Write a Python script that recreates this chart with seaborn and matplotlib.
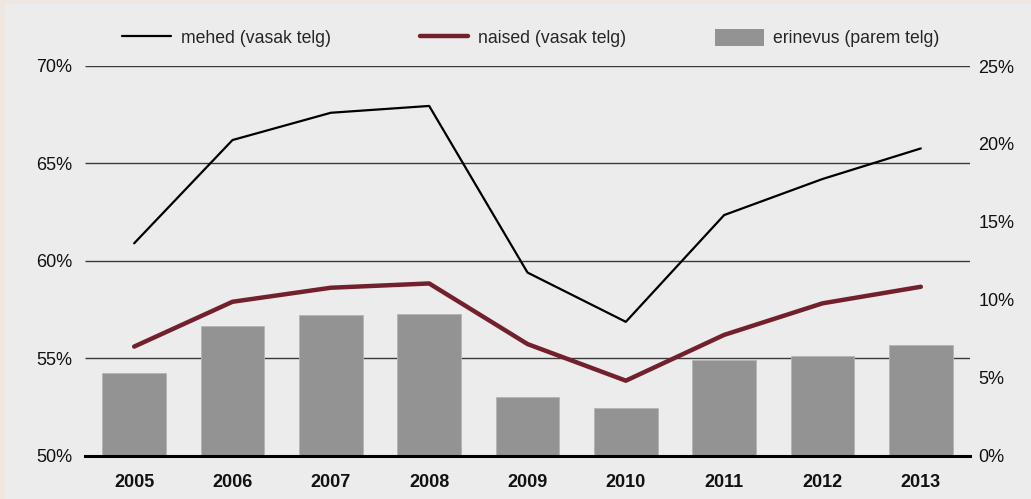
import numpy as np
import pandas as pd
import matplotlib
matplotlib.use('Agg')
import matplotlib.pyplot as plt
import matplotlib.transforms as mtransforms
import seaborn as sns
from matplotlib.patches import Rectangle
from matplotlib.lines import Line2D
from matplotlib.ticker import FuncFormatter

# Data
years = ['2005', '2006', '2007', '2008', '2009', '2010', '2011', '2012', '2013']
mehed = [60.9, 66.2, 67.6, 67.95, 59.4, 56.87, 62.35, 64.2, 65.77]
naised = [55.6, 57.9, 58.62, 58.84, 55.73, 53.85, 56.2, 57.82, 58.67]
erinevus = [5.32, 8.31, 9.0, 9.1, 3.74, 3.04, 6.13, 6.41, 7.1]

left_ticks = [50, 55, 60, 65, 70]
right_ticks = [0, 5, 10, 15, 20, 25]

df = pd.DataFrame({'aasta': years, 'pos': np.arange(len(years)),
                   'mehed': mehed, 'naised': naised, 'erinevus': erinevus})

sns.set_theme(style='white')
plt.rcParams['font.family'] = ['Liberation Sans', 'DejaVu Sans']

BG_OUT = '#efe6df'
BG_IN = '#ececec'
BAR = '#939393'
MAROON = '#72202b'

W, H = 1031, 499
fig = plt.figure(figsize=(W / 100, H / 100), dpi=100, facecolor=BG_OUT)
fig.patches.append(Rectangle((5 / W, 0), 1, 1 - 4 / H, transform=fig.transFigure,
                             facecolor=BG_IN, edgecolor='none', zorder=-5))

ax1 = fig.add_axes([85 / W, (H - 455.7) / H, (970 - 85) / W, (455.7 - 66) / H])
ax2 = ax1.twinx()

# bars on the right axis
sns.barplot(data=df, x='aasta', y='erinevus', color=BAR, saturation=1,
            width=0.65, edgecolor='#b4b4b4', linewidth=0.6, ax=ax2, zorder=2)

# gridlines follow the left axis ticks but sit behind the bars
grid_tr = mtransforms.blended_transform_factory(ax2.transAxes, ax1.transData)
ax2.hlines(left_ticks[1:], 0, 1, transform=grid_tr, color='#3a3a3a',
           linewidth=1.0, zorder=1)

ax2.set_ylim(0, 25)
ax2.set_yticks(right_ticks)
ax2.yaxis.set_major_formatter(FuncFormatter(lambda v, p: f'{v:.0f}%'))
ax2.set_ylabel('')
ax2.set_xlabel('')

# lines on the left axis, drawn above the bars
ax1.set_zorder(ax2.get_zorder() + 1)
ax1.patch.set_visible(False)
sns.lineplot(data=df, x='pos', y='mehed', color='black', linewidth=1.6, ax=ax1)
sns.lineplot(data=df, x='pos', y='naised', color=MAROON, linewidth=3.2, ax=ax1)
ax1.set_ylim(50, 70)
ax1.set_yticks(left_ticks)
ax1.yaxis.set_major_formatter(FuncFormatter(lambda v, p: f'{v:.0f}%'))
ax1.set_xlim(-0.5, len(years) - 0.5)
ax2.set_xlim(-0.5, len(years) - 0.5)
ax1.set_xticks(df['pos'])
ax1.set_xticklabels(years, fontweight='bold')
ax1.set_ylabel('')
ax1.set_xlabel('')

for ax in (ax1, ax2):
    for side in ('top', 'left', 'right', 'bottom'):
        ax.spines[side].set_visible(False)
    ax.tick_params(length=0, labelsize=13, colors='#111111')
ax2.spines['bottom'].set_visible(True)
ax2.spines['bottom'].set_color('black')
ax2.spines['bottom'].set_linewidth(2.2)
ax1.tick_params(axis='y', pad=9)
ax2.tick_params(axis='y', pad=6)
ax1.tick_params(axis='x', pad=13.5)
ax2.tick_params(axis='x', labelbottom=False)

handles = [Line2D([], [], color='black', linewidth=1.6),
           Line2D([], [], color=MAROON, linewidth=3.2),
           Rectangle((0, 0), 1, 1, facecolor=BAR, edgecolor='none')]
labels = ['mehed (vasak telg)', 'naised (vasak telg)', 'erinevus (parem telg)']
fig.legend(handles, labels, loc='center', bbox_to_anchor=(531 / W, 1 - 38 / H),
           ncol=3, frameon=False, fontsize=12.7, handlelength=2.75,
           handleheight=1.15, handletextpad=0.55, columnspacing=5.05)

fig.savefig('out.png', dpi=100, facecolor=BG_OUT)
